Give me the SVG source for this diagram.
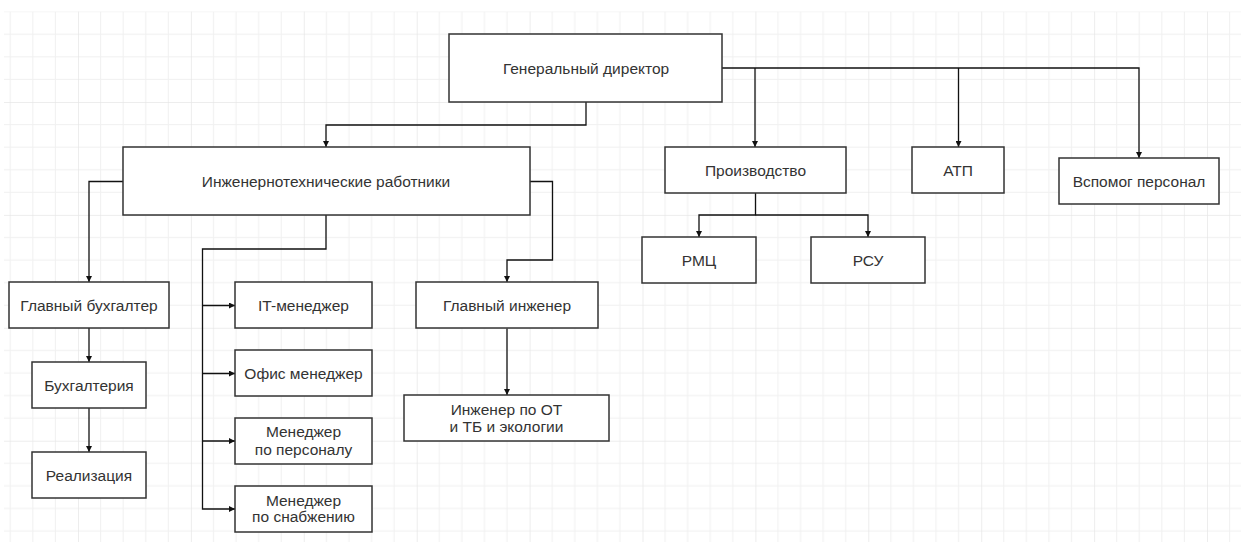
<svg xmlns="http://www.w3.org/2000/svg" width="1241" height="542" viewBox="0 0 1241 542">
<style>
.box{fill:#fff;stroke:#333;stroke-width:1.5}
.t{font-family:"Liberation Sans",Arial,sans-serif;font-size:15.5px;fill:#333;text-anchor:middle}
.c{fill:none;stroke:#111;stroke-width:1.3}
</style>
<defs>
<pattern id="grid" patternUnits="userSpaceOnUse" x="78" y="102" width="112.9" height="112.9">
<rect x="0" y="0" width="112.9" height="112.9" fill="#fff"/>
<g fill="#f1f1f1">
<rect x="22.08" y="0" width="1" height="112.9"/>
<rect x="44.66" y="0" width="1" height="112.9"/>
<rect x="67.24" y="0" width="1" height="112.9"/>
<rect x="89.82" y="0" width="1" height="112.9"/>
<rect x="0" y="22.08" width="112.9" height="1"/>
<rect x="0" y="44.66" width="112.9" height="1"/>
<rect x="0" y="67.24" width="112.9" height="1"/>
<rect x="0" y="89.82" width="112.9" height="1"/>
</g>
<g fill="#e6e6e6">
<rect x="-0.5" y="0" width="1.2" height="112.9"/>
<rect x="0" y="-0.5" width="112.9" height="1.2"/>
</g>
</pattern>
<marker id="ar" viewBox="0 0 8 8" refX="8" refY="4" markerWidth="6" markerHeight="6" orient="auto" markerUnits="userSpaceOnUse">
<path d="M0,0 L8,4 L0,8 z" fill="#111"/>
</marker>
</defs>
<rect width="1241" height="542" fill="#fff"/>
<rect x="4" y="11.5" width="1237" height="531" fill="url(#grid)"/>

<g id="connectors">
<path class="c" d="M586,102 V125 H326 V147" marker-end="url(#ar)"/>
<path class="c" d="M722,68 H1139 V158" marker-end="url(#ar)"/>
<path class="c" d="M755,68 V147" marker-end="url(#ar)"/>
<path class="c" d="M958.5,68 V147" marker-end="url(#ar)"/>
<path class="c" d="M755.5,193 V215 H699 V237" marker-end="url(#ar)"/>
<path class="c" d="M755.5,215 H868 V237" marker-end="url(#ar)"/>
<path class="c" d="M123,181.5 H89 V282" marker-end="url(#ar)"/>
<path class="c" d="M89,328 V362" marker-end="url(#ar)"/>
<path class="c" d="M89,408 V452" marker-end="url(#ar)"/>
<path class="c" d="M326,215 V249 H202.5 V509 H235" marker-end="url(#ar)"/>
<path class="c" d="M202.5,305.5 H235" marker-end="url(#ar)"/>
<path class="c" d="M202.5,373.5 H235" marker-end="url(#ar)"/>
<path class="c" d="M202.5,441 H235" marker-end="url(#ar)"/>
<path class="c" d="M530,181.5 H552.5 V260 H507 V282" marker-end="url(#ar)"/>
<path class="c" d="M507,328.5 V395" marker-end="url(#ar)"/>
</g>

<g id="gen-dir"><rect class="box" x="449" y="34" width="273" height="68"/><text class="t" x="586" y="73.5">Генеральный директор</text></g>
<g id="itr"><rect class="box" x="123" y="147" width="407" height="68"/><text class="t" x="326" y="186.5">Инженернотехнические работники</text></g>
<g id="proizv"><rect class="box" x="665" y="147" width="181" height="46"/><text class="t" x="755.5" y="175.5">Производство</text></g>
<g id="atp"><rect class="box" x="912" y="147" width="92" height="46"/><text class="t" x="958" y="175.5">АТП</text></g>
<g id="vspomog"><rect class="box" x="1059" y="158" width="160" height="46"/><text class="t" x="1139" y="186.5">Вспомог персонал</text></g>
<g id="rmc"><rect class="box" x="642" y="237" width="114" height="46"/><text class="t" x="699" y="265.5">РМЦ</text></g>
<g id="rsu"><rect class="box" x="811" y="237" width="114" height="46"/><text class="t" x="868" y="265.5">РСУ</text></g>
<g id="gl-buh"><rect class="box" x="9" y="282" width="160" height="46"/><text class="t" x="89" y="310.5">Главный бухгалтер</text></g>
<g id="buh"><rect class="box" x="32" y="362" width="114" height="46"/><text class="t" x="89" y="390.5">Бухгалтерия</text></g>
<g id="real"><rect class="box" x="32" y="452" width="114" height="46"/><text class="t" x="89" y="480.5">Реализация</text></g>
<g id="it"><rect class="box" x="235" y="282" width="137" height="46"/><text class="t" x="303.5" y="310.5">IT-менеджер</text></g>
<g id="office"><rect class="box" x="235" y="350" width="137" height="46"/><text class="t" x="303.5" y="378.5">Офис менеджер</text></g>
<g id="hr"><rect class="box" x="235" y="418" width="137" height="46"/><text class="t" x="303.5" y="437">Менеджер</text><text class="t" x="303.5" y="455">по персоналу</text></g>
<g id="supply"><rect class="box" x="235" y="486" width="137" height="46"/><text class="t" x="303.5" y="505.5">Менеджер</text><text class="t" x="303.5" y="522">по снабжению</text></g>
<g id="gl-ing"><rect class="box" x="416" y="282" width="182" height="46"/><text class="t" x="507" y="310.5">Главный инженер</text></g>
<g id="ing-ot"><rect class="box" x="404" y="395" width="205" height="46"/><text class="t" x="506.5" y="415">Инженер по ОТ</text><text class="t" x="506.5" y="432">и ТБ и экологии</text></g>
</svg>
